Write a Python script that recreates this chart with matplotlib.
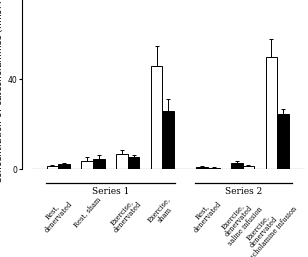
import numpy as np
import matplotlib
matplotlib.use("Agg")
import matplotlib.pyplot as plt

# group labels for the two experimental series
series1_labels = ["Rest,\ndenervated", "Rest, sham", "Exercise,\ndenervated", "Exercise,\nsham"]
series2_labels = ["Rest,\ndenervated", "Exercise,\ndenervated\nsaline infusion",
                  "Exercise,\ndenervated\ncatecholamine infusion"]
series_names = ["Series 1", "Series 2"]

# open (white) and filled (black) bars, means and upper error
white_vals = [1.7, 3.8, 6.9, 46.1, 0.8, 1.7, 49.9]
white_err = [0.3, 1.9, 1.8, 8.9, 0.2, 0.3, 8.1]
black_vals = [2.4, 4.7, 5.7, 26.0, 1.2, 3.0, 24.5]
black_err = [0.4, 1.7, 0.7, 5.3, 0.2, 0.8, 2.4]
white_first = [True, True, True, True, False, False, True]

yticks = [0, 40]

# group positions: series 2 shifted right by a gap
n1, n2 = len(series1_labels), len(series2_labels)
gap = 0.31
pos = np.concatenate([np.arange(n1), np.arange(n2) + n1 + gap])
w = 0.337

fig = plt.figure(figsize=(3.08, 2.57), dpi=100)
ax = fig.add_axes([0.0714, 0.3405, 0.919, 0.6595])

for i, p in enumerate(pos):
    off = -w / 2 if white_first[i] else w / 2
    ax.bar(p + off, white_vals[i], w, color="white", edgecolor="black", lw=0.7)
    ax.bar(p - off, black_vals[i], w, color="black", edgecolor="black", lw=0.7)
    ax.errorbar(p + off, white_vals[i], yerr=[[0], [white_err[i]]], fmt="none",
                ecolor="black", elinewidth=0.7, capsize=1.5, capthick=0.7)
    ax.errorbar(p - off, black_vals[i], yerr=[[0], [black_err[i]]], fmt="none",
                ecolor="black", elinewidth=0.7, capsize=1.5, capthick=0.7)

ax.set_xlim(-1.046, 7.11)
ax.set_ylim(0, 75.3)
ax.axhline(0, xmin=(-0.764 + 1.046) / 8.156, xmax=1, color="black", lw=0.8)

for s in ["top", "right", "bottom"]:
    ax.spines[s].set_visible(False)
ax.spines["left"].set_linewidth(0.8)
ax.set_xticks([])
ax.set_yticks(yticks)
ax.tick_params(axis="y", length=2.5, width=0.8, labelsize=5.5, pad=0.5, colors="black")
ax.set_ylabel("Concentration of catecholamines (nmol l$^{-1}$)", fontsize=6.5, labelpad=1.5)

# series underlines and names
spans = [(-0.354, 3.36), (3.94, 6.73)]
for (a, b), name in zip(spans, series_names):
    ax.plot([a, b], [-6.0, -6.0], color="black", lw=0.9, clip_on=False)
    ax.text((a + b) / 2, -8.0, name, ha="center", va="top", fontsize=6.5,
            family="serif", clip_on=False)

# rotated group labels
for p, lab in zip(pos, series1_labels + series2_labels):
    ax.text(p + 0.1, -11.3, lab, rotation=49, ha="right", va="top",
            rotation_mode="anchor", fontsize=4.8, family="serif",
            multialignment="center", linespacing=1.0, clip_on=False)

fig.savefig("out.png", dpi=100)
